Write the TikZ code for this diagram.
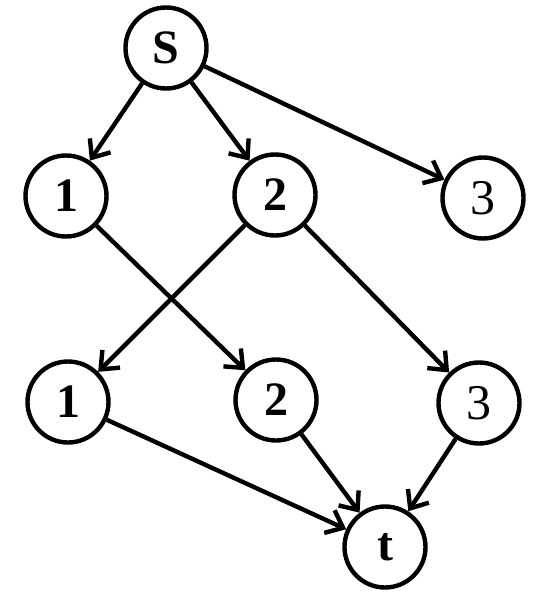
\documentclass[tikz,border=0pt]{standalone}
\usepackage{fontspec}
\setmainfont{Liberation Serif}
\usetikzlibrary{arrows.meta}
\begin{document}
\begin{tikzpicture}[x=1pt,y=-1pt,
  vtx/.style={circle,draw=black,line width=4.4pt,minimum size=81pt,inner sep=0pt},
  lab/.style={font=\fontsize{50}{54}\selectfont},
  blab/.style={font=\fontsize{48}{52}\selectfont\bfseries},
  arr/.style={line width=4.4pt,-{Straight Barb[length=15pt,width=25pt,line width=4.4pt]}}]
\useasboundingbox (0,0) rectangle (550,599);
\node[vtx,blab] (s) at (166,48) {S};
\node[vtx,blab] (a1) at (66,196) {1};
\node[vtx,blab] (a2) at (275,195) {2};
\node[vtx,lab] (a3) at (483,198) {3};
\node[vtx,blab] (b1) at (68,402) {1};
\node[vtx,blab] (b2) at (276,400) {2};
\node[vtx,lab] (b3) at (479,403) {3};
\node[vtx,blab] (t) at (385,547) {t};
\draw[arr] (s) -- (a1);
\draw[arr] (s) -- (a2);
\draw[arr] (s) -- (a3);
\draw[arr] (a1) -- (b2);
\draw[arr] (a2) -- (b1);
\draw[arr] (a2) -- (b3);
\draw[arr] (b1) -- (t);
\draw[arr] (b2) -- (t);
\draw[arr] (b3) -- (t);
\end{tikzpicture}
\end{document}
